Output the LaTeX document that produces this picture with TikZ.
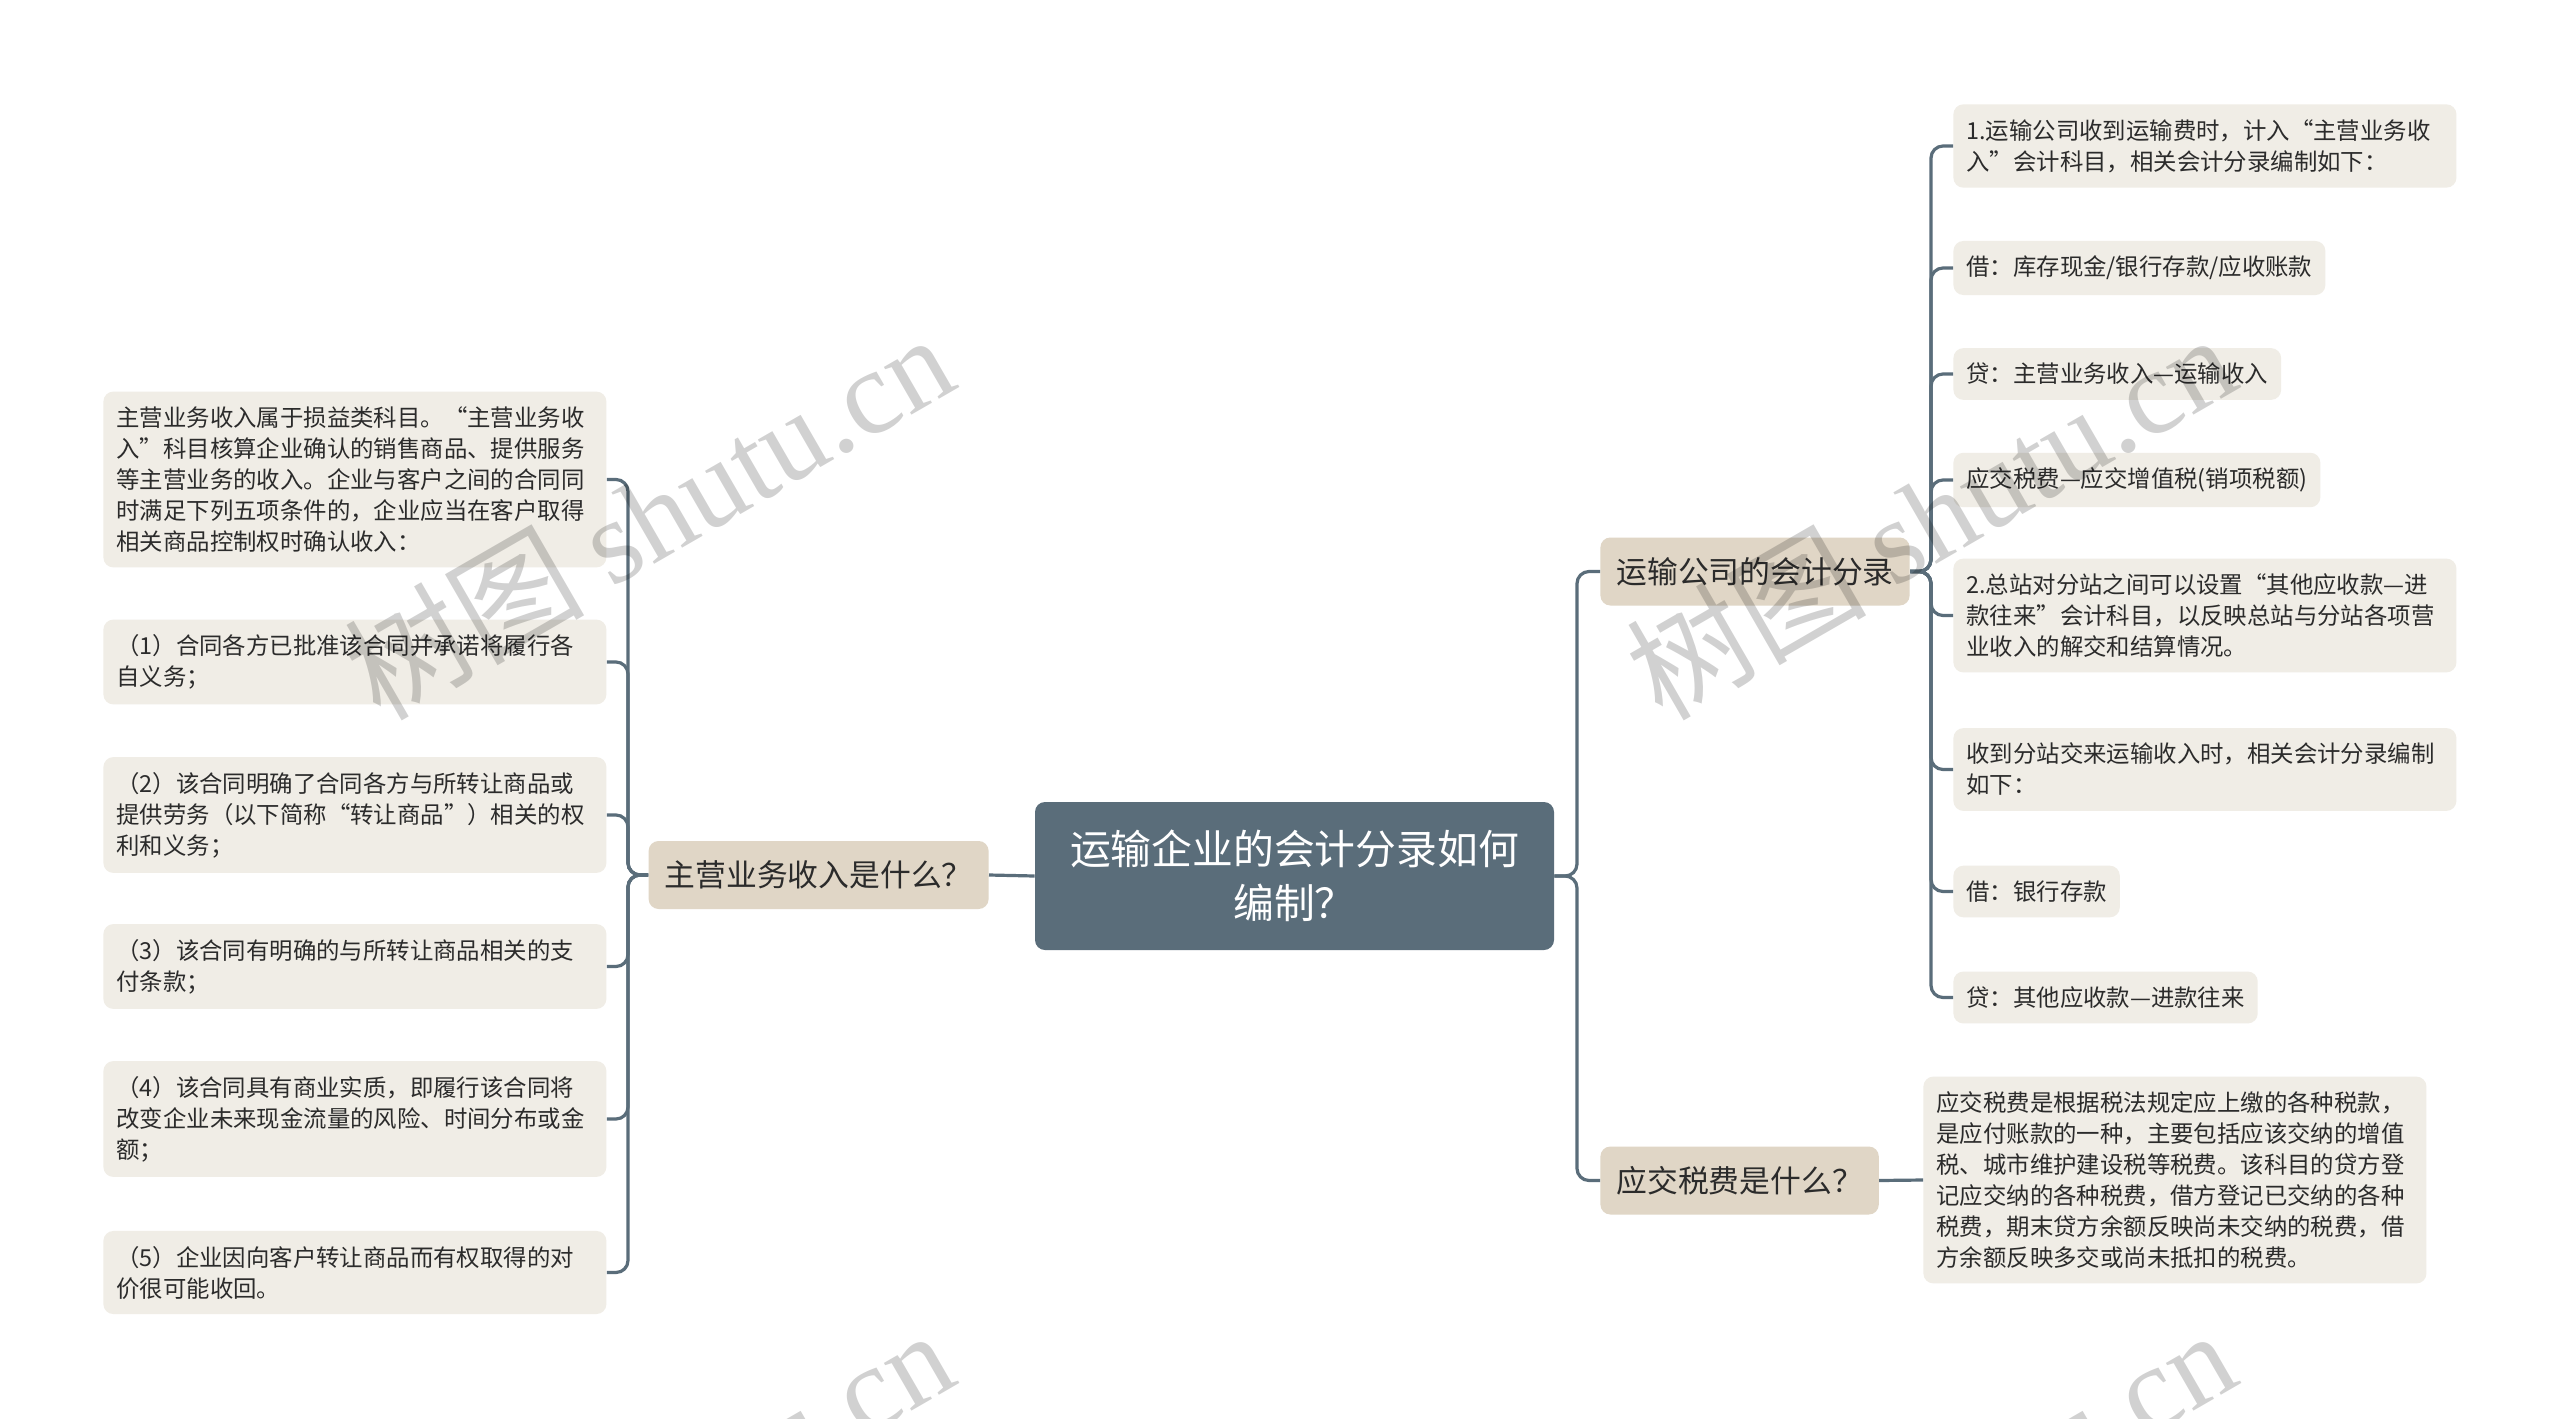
\documentclass[tikz,border=0pt]{standalone}
\usepackage{fontspec}
\setmainfont{Noto Sans CJK SC}
\newfontfamily\wmlatin{Liberation Serif}
\usetikzlibrary{calc,positioning}
\definecolor{centc}{HTML}{5A6D7A}
\definecolor{midc}{HTML}{E0D6C6}
\definecolor{leafc}{HTML}{F0EDE6}
\definecolor{textc}{HTML}{2B2B2B}
\def\wmark{\fontsize{60}{60}\selectfont 树图 {\wmlatin shutu.cn}}
\tikzset{
	centbox/.style={fill=centc, text=white, rounded corners=5pt, align=center,
		minimum width=259.5pt, minimum height=74pt, font=\fontsize{20.4}{27}\selectfont},
	midbox/.style={fill=midc, text=textc, rounded corners=5pt, inner xsep=8pt,
		minimum height=34pt, font=\fontsize{15.4}{18}\selectfont},
	leaf/.style={fill=leafc, text=textc, rounded corners=5pt, align=left, anchor=west,
		inner xsep=6.5pt, inner ysep=7.5pt, font=\fontsize{11.7}{15.5}\selectfont},
	wide/.style={leaf, text width=238.5pt},
	link/.style={draw=centc, line width=1.6pt, rounded corners=6pt},
}

\begin{document}
\begin{tikzpicture}[x=0.5pt,y=-0.5pt]
			%%%%% START %%%%%
			\useasboundingbox (0,0) rectangle (2560,1419);
			\fill[white] (0,0) rectangle (2560,1419);
			
			\node[centbox] (root) at (1294.5, 876) {运输企业的会计分录如何\\编制？};
			
			\node[midbox, anchor=east] (lmid) at (989, 875) {主营业务收入是什么？};
			\node[midbox, anchor=west] (rmida) at (1600, 571.5) {运输公司的会计分录};
			\node[midbox, anchor=west] (rmidb) at (1600, 1180.5) {应交税费是什么？};
			
			\node[wide] (la) at (103, 479.5) {主营业务收入属于损益类科目。“主营业务收\\入”科目核算企业确认的销售商品、提供服务\\等主营业务的收入。企业与客户之间的合同同\\时满足下列五项条件的，企业应当在客户取得\\相关商品控制权时确认收入：};
			\node[wide] (lb) at (103, 662) {（1）合同各方已批准该合同并承诺将履行各\\自义务；};
			\node[wide] (lc) at (103, 815) {（2）该合同明确了合同各方与所转让商品或\\提供劳务（以下简称“转让商品”）相关的权\\利和义务；};
			\node[wide] (ld) at (103, 966.5) {（3）该合同有明确的与所转让商品相关的支\\付条款；};
			\node[wide] (le) at (103, 1119) {（4）该合同具有商业实质，即履行该合同将\\改变企业未来现金流量的风险、时间分布或金\\额；};
			\node[wide] (lf) at (103, 1272.5) {（5）企业因向客户转让商品而有权取得的对\\价很可能收回。};
			
			\node[wide] (ra) at (1953, 146) {1.运输公司收到运输费时，计入“主营业务收\\入”会计科目，相关会计分录编制如下：};
			\node[leaf] (rb) at (1953, 268) {借：库存现金/银行存款/应收账款};
			\node[leaf] (rc) at (1953, 374) {贷：主营业务收入—运输收入};
			\node[leaf] (rd) at (1953, 480) {应交税费—应交增值税(销项税额)};
			\node[wide] (re) at (1953, 615.5) {2.总站对分站之间可以设置“其他应收款—进\\款往来”会计科目，以反映总站与分站各项营\\业收入的解交和结算情况。};
			\node[wide] (rf) at (1953, 769.5) {收到分站交来运输收入时，相关会计分录编制\\如下：};
			\node[leaf] (rg) at (1953, 891.5) {借：银行存款};
			\node[leaf] (rh) at (1953, 997.5) {贷：其他应收款—进款往来};
			
			\node[wide] (tax) at (1923, 1180) {应交税费是根据税法规定应上缴的各种税款，\\是应付账款的一种，主要包括应该交纳的增值\\税、城市维护建设税等税费。该科目的贷方登\\记应交纳的各种税费，借方登记已交纳的各种\\税费，期末贷方余额反映尚未交纳的税费，借\\方余额反映多交或尚未抵扣的税费。};
			
			\coordinate (lbar) at (628, 0);
			\coordinate (cbar) at (1577, 0);
			\coordinate (rbar) at (1931, 0);
			
			\draw[link] (root.west) -- (lmid.east);
			\foreach \n in {la,lb,lc,ld,le,lf}
				\draw[link] (lmid.west) -- (lmid.west -| lbar) |- (\n.east);
			\foreach \n in {rmida,rmidb}
				\draw[link] (root.east) -- (root.east -| cbar) |- (\n.west);
			\foreach \n in {ra,rb,rc,rd,re,rf,rg,rh}
				\draw[link] (rmida.east) -- (rmida.east -| rbar) |- (\n.west);
			\draw[link] (rmidb.east) -- (tax.west);
			
			\begin{scope}
				\clip (0,0) rectangle (2560,1419);
				\foreach \p in {(648,515),(1930,515),(648,1511),(1930,1511)}
					\node[rotate=30, text=black, opacity=0.18] at \p {\wmark};
			\end{scope}
			%%%%% END %%%%%
\end{tikzpicture}
\end{document}
